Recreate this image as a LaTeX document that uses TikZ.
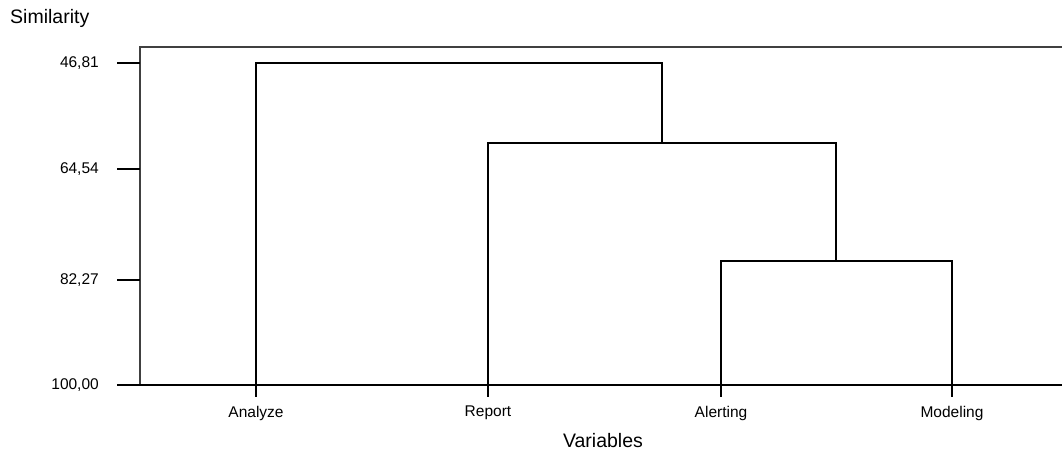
\documentclass[tikz,border=0pt]{standalone}
\usepackage{fontspec}
\setmainfont{Liberation Sans}
\begin{document}
\begin{tikzpicture}[x=1pt,y=-1pt,
  link/.style={line width=1.2pt,black},
  frame/.style={line width=1.2pt,black!75},
  ticklabel/.style={anchor=east,inner sep=0pt,font=\fontsize{15.5}{16}\selectfont},
  leaflabel/.style={anchor=center,inner sep=0pt,font=\fontsize{15.5}{16}\selectfont},
  axistitle/.style={inner sep=0pt,font=\fontsize{19.5}{20}\selectfont}]
\useasboundingbox (0,0) rectangle (1062,454);
% plot frame (right side runs off the page)
\draw[frame] (1062,47) -- (140,47) -- (140,385);
\draw[link] (117,385) -- (1062,385);
% similarity axis ticks
\foreach \yy/\lab in {63/{46,81},169/{64,54},280/{82,27}}{
  \draw[link] (117,\yy) -- (140,\yy);
  \node[ticklabel] at (99,\yy) {\lab};
}
\node[ticklabel] at (99,385) {100,00};
\node[axistitle,anchor=west] (ytitle) at (10,18) {Similarity};
\node[axistitle] (xtitle) at (603,441) {Variables};
% leaves
\foreach \nm/\xx/\lab in {a/256/Analyze,r/488/Report,al/721/Alerting,m/952/Modeling}{
  \coordinate (\nm) at (\xx,385);
  \coordinate (\nm-t) at (\xx,397);
  \node[leaflabel] (\nm-lab) at (\xx,413) {\lab};
  \draw[link] (\nm) -- (\nm-t);
}
% merge points
\coordinate (am) at (836,261);
\coordinate (ram) at (662,143);
% dendrogram links
\draw[link] (al) |- (am) -| (m);
\draw[link] (r) |- (ram) -| (am);
\draw[link] (a) |- (662,63) -- (ram);
\end{tikzpicture}
\end{document}
